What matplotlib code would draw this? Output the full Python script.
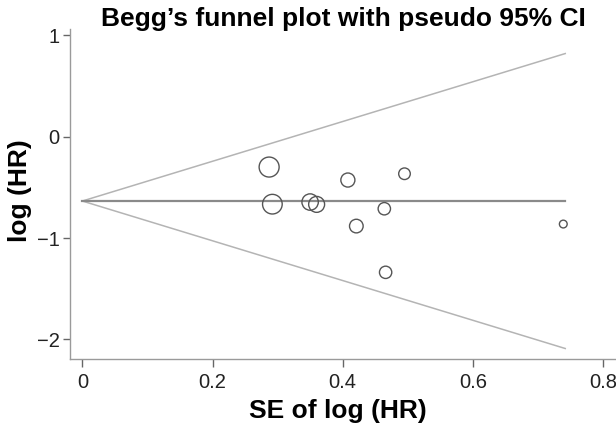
import matplotlib
matplotlib.use("Agg")
import matplotlib.pyplot as plt
import numpy as np

plt.rcParams['font.family'] = ['Liberation Sans', 'DejaVu Sans']

# Study estimates
se = [0.287, 0.292, 0.350, 0.360, 0.408, 0.495, 0.464, 0.421, 0.466, 0.739]
loghr = [-0.30, -0.666, -0.645, -0.668, -0.428, -0.366, -0.711, -0.882, -1.338, -0.862]
pooled = -0.635
se_max = 0.742
xticks = [0, 0.2, 0.4, 0.6, 0.8]
xticklabels = ["0", "0.2", "0.4", "0.6", "0.8"]
yticks = [1, 0, -1, -2]
yticklabels = ["1", "0", "\u22121", "\u22122"]

se_a = np.array(se)
y_a = np.array(loghr)

fig = plt.figure(figsize=(6.16, 4.29), dpi=100)
ax = fig.add_axes([0.1136, 0.1643, 0.8864, 0.768])

xs = np.array([0, se_max])
ax.plot(xs, pooled + 1.96 * xs, color='#b4b4b4', lw=1.1)
ax.plot(xs, pooled - 1.96 * xs, color='#b4b4b4', lw=1.1)
ax.plot(xs, [pooled, pooled], color='#8a8a8a', lw=1.6)

diam = 4.13 / se_a
ax.scatter(se_a, y_a, s=diam ** 2, facecolors='none', edgecolors='#555555', linewidths=1.0, zorder=3)

ax.set_xlim(-0.019, 0.82)
ax.set_ylim(-2.188, 1.061)
ax.set_xticks(xticks)
ax.set_xticklabels(xticklabels)
ax.set_yticks(yticks)
ax.set_yticklabels(yticklabels)

for s in ['top', 'right']:
    ax.spines[s].set_visible(False)
for s in ['left', 'bottom']:
    ax.spines[s].set_color('#9a9a9a')
    ax.spines[s].set_linewidth(1.0)
ax.tick_params(axis='both', colors='#666666', labelcolor='#222222', labelsize=14.5, length=5.4, width=1.0)
ax.tick_params(axis='x', pad=5)
ax.tick_params(axis='y', pad=2.2)

ax.set_xlabel("SE of log (HR)", fontsize=19, fontweight='bold', va='top')
ax.xaxis.set_label_coords(0.491, -0.123)
ax.set_ylabel("log (HR)", fontsize=19, fontweight='bold')
ax.yaxis.set_label_coords(-0.0696, 0.511)
ax.set_title("Begg\u2019s funnel plot with pseudo 95% CI", fontsize=19, fontweight='bold', pad=0, y=1.0106)

fig.savefig("out.png", dpi=100)
